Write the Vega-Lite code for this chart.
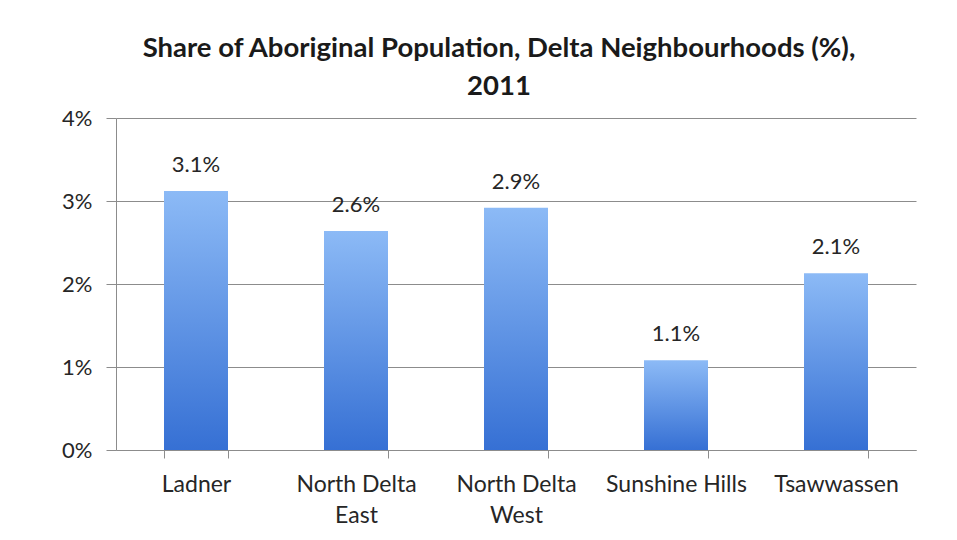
{
  "$schema": "https://vega.github.io/schema/vega-lite/v6.json",
  "width": 800,
  "height": 332,
  "autosize": {"type": "none"},
  "padding": {"left": 116, "top": 118, "right": 41, "bottom": 90},
  "background": "white",
  "title": {
    "text": ["Share of Aboriginal Population, Delta Neighbourhoods (%),", "2011"],
    "font": "Lato",
    "fontSize": 27.5,
    "fontWeight": "bold",
    "color": "#1a1a1a",
    "anchor": "middle",
    "dx": -17,
    "offset": 7,
    "lineHeight": 38
  },
  "data": {
    "values": [
      {"area": "Ladner", "share": 0.0312},
      {"area": "North Delta East", "share": 0.0264},
      {"area": "North Delta West", "share": 0.0292},
      {"area": "Sunshine Hills", "share": 0.0108},
      {"area": "Tsawwassen", "share": 0.0213}
    ]
  },
  "encoding": {
    "x": {
      "field": "area",
      "type": "nominal",
      "sort": null,
      "title": null,
      "scale": {"paddingInner": 0.6, "paddingOuter": 0.3},
      "axis": {
        "labelAngle": 0,
        "labelFont": "Lato",
        "labelFontSize": 23,
        "labelColor": "#262626",
        "labelPadding": 15,
        "labelLineHeight": 31,
        "labelBaseline": "top",
        "labelExpr": "datum.value == 'North Delta East' ? ['North Delta', 'East'] : datum.value == 'North Delta West' ? ['North Delta', 'West'] : datum.value",
        "tickBand": "extent",
        "tickSize": 8,
        "tickColor": "#8c8c8c",
        "domainColor": "#8c8c8c",
        "grid": false
      }
    },
    "y": {
      "field": "share",
      "type": "quantitative",
      "title": null,
      "scale": {"domain": [0, 0.04]},
      "axis": {
        "values": [0, 0.01, 0.02, 0.03, 0.04],
        "format": ".0%",
        "labelFont": "Lato",
        "labelFontSize": 22,
        "labelColor": "#262626",
        "labelPadding": 14,
        "tickSize": 10,
        "tickColor": "#8c8c8c",
        "domainColor": "#8c8c8c",
        "gridColor": "#8c8c8c",
        "gridWidth": 1
      }
    }
  },
  "layer": [
    {
      "mark": {
        "type": "bar",
        "color": {
          "gradient": "linear",
          "x1": 0, "y1": 0, "x2": 0, "y2": 1,
          "stops": [
            {"offset": 0, "color": "#8cbaf6"},
            {"offset": 1, "color": "#3670d4"}
          ]
        }
      }
    },
    {
      "mark": {
        "type": "text",
        "font": "Lato",
        "fontSize": 22,
        "color": "#262626",
        "baseline": "alphabetic",
        "dy": -19
      },
      "encoding": {
        "text": {"field": "share", "type": "quantitative", "format": ".1%"}
      }
    }
  ],
  "config": {
    "view": {"stroke": null}
  }
}
